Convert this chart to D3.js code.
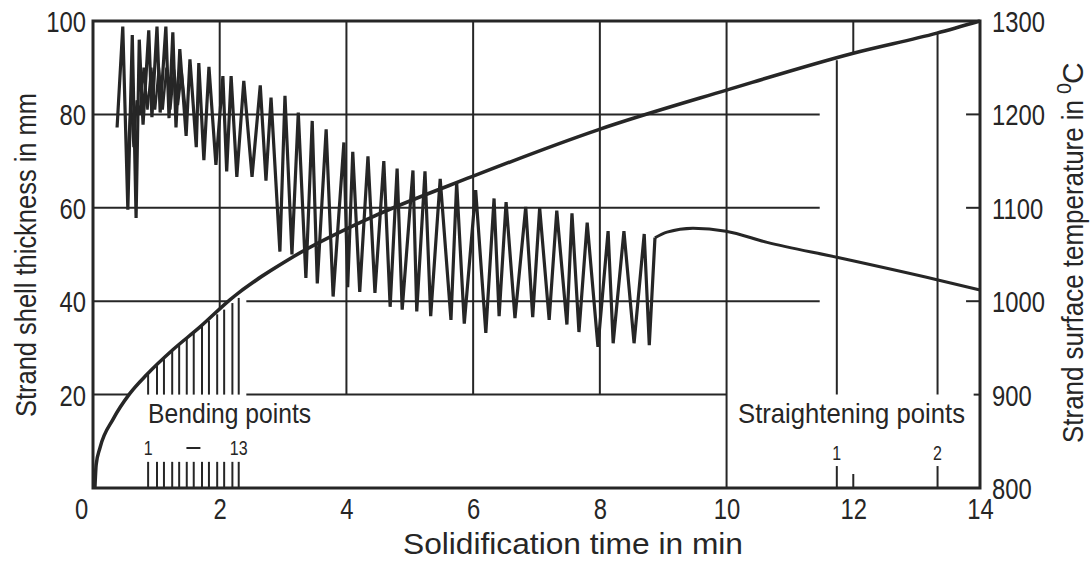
<!DOCTYPE html>
<html>
<head>
<meta charset="utf-8">
<title>Strand shell thickness and surface temperature</title>
<script src="https://d3js.org/d3.v7.min.js"></script>
<style>
  body { margin: 0; background: #ffffff; }
  svg { display: block; }
  text { font-family: "Liberation Sans Narrow", "Liberation Sans", sans-serif; fill: #262626; }
</style>
</head>
<body>
<script>
var width = 1091, height = 566;
var ink = "#262626";

// shell thickness (left axis, mm)
var shellTime = [0.03, 0.05, 0.11, 0.32, 0.58, 0.85, 1.26, 1.69, 2.16, 3.16, 4.37, 5.97, 7.97, 10.0, 12.0, 13.32, 14.0];
var shellMm   = [0, 5.0, 8.6, 14.8, 20.2, 24.3, 29.6, 34.5, 40.3, 49.5, 57.8, 66.6, 76.7, 85.2, 93.1, 97.4, 100];

// surface temperature (right axis, degC) - zigzag in the spray zone
var tempTime = [0.38,0.47,0.55,0.62,0.68,0.73,0.79,0.88,0.93,1.01,1.06,1.15,1.20,1.26,1.31,1.37,1.47,1.53,1.63,1.67,
  1.75,1.83,1.94,2.05,2.11,2.18,2.27,2.38,2.51,2.64,2.73,2.81,2.95,3.03,3.14,3.24,3.36,3.46,3.54,3.68,
  3.79,3.96,4.02,4.10,4.21,4.34,4.45,4.59,4.69,4.80,4.88,5.05,5.11,5.24,5.33,5.48,5.65,5.74,5.86,6.04,
  6.20,6.33,6.41,6.52,6.66,6.83,6.94,7.05,7.20,7.32,7.48,7.56,7.67,7.80,7.97,8.13,8.21,8.38,8.54,8.70,
  8.78,8.87];
var tempValue = [1186,1294,1098,1285,1089,1280,1189,1290,1197,1294,1202,1294,1196,1288,1186,1270,1177,1259,1165,1255,
  1151,1251,1146,1241,1139,1241,1133,1236,1133,1231,1129,1218,1053,1220,1050,1202,1025,1193,1019,1184,
  1005,1170,1015,1160,1010,1155,1009,1150,994,1142,991,1140,989,1139,984,1131,980,1127,976,1119,
  966,1110,984,1106,982,1101,983,1100,980,1097,975,1094,967,1084,951,1075,955,1075,955,1072,
  953,1068];

// inner small oscillation near the top of the first zone
var innerTime  = [0.55,0.60,0.64,0.69,0.74,0.80,0.86,0.92,0.98,1.04,1.10,1.16,1.22,1.28,1.34,1.40,1.46];
var innerValue = [1160,1215,1165,1215,1200,1250,1205,1250,1205,1250,1205,1250,1205,1248,1210,1245,1205];

// surface temperature after leaving the spray zone
var coolTime  = [8.87, 9.06, 9.47, 9.99, 10.64, 11.74, 13.32, 14.0];
var coolValue = [1068, 1074, 1078, 1075, 1063, 1047, 1023, 1012];

// bending points 1 - 13 (time, top of marker in mm)
var bendTime = [0.87,1.01,1.12,1.25,1.36,1.48,1.59,1.72,1.83,1.96,2.07,2.20,2.30];
var bendTop  = [24.3,26.2,27.6,29.4,30.7,32.1,33.3,34.7,35.8,37.2,38.2,39.6,40.7];

// straightening points 1, 2
var straightTime = [11.74, 13.33];
var straightTop  = [91.6, 97.4];
var straightLabels = ["1", "2"];

// tick labels
var timeTicks = [0, 2, 4, 6, 8, 10, 12, 14];
var mmTicks = [20, 40, 60, 80, 100];
var tempTicks = [800, 900, 1000, 1100, 1200, 1300];

// grid pieces (value, from, to) in data units
var hGrid = [[80, 0, 11.47], [60, 0, 11.47], [40, 0, 2.15], [40, 2.42, 11.47], [20, 0, 0.58], [20, 2.42, 10],
             [80, 13.78, 14], [60, 13.78, 14], [40, 13.78, 14], [20, 13.9, 14]];
var vGrid = [[2, 38.5, 100], [4, 20, 100], [6, 20, 100], [8, 20, 100], [10, 0, 100], [12, 93.1, 100], [12, 0, 3]];

var x = d3.scaleLinear().domain([0, 14]).range([93, 980]);
var yL = d3.scaleLinear().domain([0, 100]).range([488, 21]);
var yR = d3.scaleLinear().domain([800, 1300]).range([488, 21]);

var svg = d3.select("body").append("svg")
  .attr("width", width)
  .attr("height", height);

function squash(sel, f) {
  sel.each(function() {
    var w = this.getComputedTextLength();
    d3.select(this).attr("textLength", w * f).attr("lengthAdjust", "spacingAndGlyphs");
  });
}

// grid
svg.append("g").selectAll("line")
  .data(hGrid).enter().append("line")
  .attr("x1", function(d) { return x(d[1]); })
  .attr("x2", function(d) { return x(d[2]); })
  .attr("y1", function(d) { return yL(d[0]); })
  .attr("y2", function(d) { return yL(d[0]); })
  .attr("stroke", ink).attr("stroke-width", 2);

svg.append("g").selectAll("line")
  .data(vGrid).enter().append("line")
  .attr("x1", function(d) { return x(d[0]); })
  .attr("x2", function(d) { return x(d[0]); })
  .attr("y1", function(d) { return yL(d[1]); })
  .attr("y2", function(d) { return yL(d[2]); })
  .attr("stroke", ink).attr("stroke-width", 2);

// bending point markers
var bend = svg.append("g");
bend.selectAll(".up").data(bendTime).enter().append("line")
  .attr("x1", function(d) { return x(d); }).attr("x2", function(d) { return x(d); })
  .attr("y1", function(d, i) { return yL(bendTop[i]); })
  .attr("y2", yL(20))
  .attr("stroke", ink).attr("stroke-width", 2);
bend.selectAll(".down").data(bendTime).enter().append("line")
  .attr("x1", function(d) { return x(d); }).attr("x2", function(d) { return x(d); })
  .attr("y1", yL(5.6)).attr("y2", yL(0))
  .attr("stroke", ink).attr("stroke-width", 2);

// straightening point markers
var straight = svg.append("g");
straight.selectAll(".up").data(straightTime).enter().append("line")
  .attr("x1", function(d) { return x(d); }).attr("x2", function(d) { return x(d); })
  .attr("y1", function(d, i) { return yL(straightTop[i]); })
  .attr("y2", yL(20))
  .attr("stroke", ink).attr("stroke-width", 2);
straight.selectAll(".down").data(straightTime).enter().append("line")
  .attr("x1", function(d) { return x(d); }).attr("x2", function(d) { return x(d); })
  .attr("y1", yL(4.7)).attr("y2", yL(0))
  .attr("stroke", ink).attr("stroke-width", 2);

// frame
svg.append("rect")
  .attr("x", x(0)).attr("y", yL(100))
  .attr("width", x(14) - x(0)).attr("height", yL(0) - yL(100))
  .attr("fill", "none").attr("stroke", ink).attr("stroke-width", 3);

// curves
var shellLine = d3.line()
  .x(function(d, i) { return x(shellTime[i]); })
  .y(function(d) { return yL(d); })
  .curve(d3.curveMonotoneX);
svg.append("path").datum(shellMm)
  .attr("d", shellLine)
  .attr("fill", "none").attr("stroke", ink).attr("stroke-width", 3.5);

function tempLine(times) {
  return d3.line()
    .x(function(d, i) { return x(times[i]); })
    .y(function(d) { return yR(d); });
}
svg.append("path").datum(innerValue)
  .attr("d", tempLine(innerTime))
  .attr("fill", "none").attr("stroke", ink).attr("stroke-width", 2.5)
  .attr("stroke-linejoin", "miter");
svg.append("path").datum(tempValue)
  .attr("d", tempLine(tempTime))
  .attr("fill", "none").attr("stroke", ink).attr("stroke-width", 3.2)
  .attr("stroke-linejoin", "miter").attr("stroke-miterlimit", 8);
svg.append("path").datum(coolValue)
  .attr("d", tempLine(coolTime).curve(d3.curveMonotoneX))
  .attr("fill", "none").attr("stroke", ink).attr("stroke-width", 3);

// axes
var left = svg.append("g")
  .attr("transform", "translate(" + x(0) + ",0)")
  .call(d3.axisLeft(yL).tickValues(mmTicks).tickSize(0).tickPadding(7));
var bottom = svg.append("g")
  .attr("transform", "translate(0," + yL(0) + ")")
  .call(d3.axisBottom(x).tickValues(timeTicks).tickSize(0).tickPadding(10));
var right = svg.append("g")
  .attr("transform", "translate(" + x(14) + ",0)")
  .call(d3.axisRight(yR).tickValues(tempTicks).tickFormat(d3.format("d")).tickSize(0).tickPadding(12));

[left, bottom, right].forEach(function(a) {
  a.select(".domain").remove();
  a.selectAll("text")
    .attr("font-family", "Liberation Sans Narrow")
    .attr("font-size", 29)
    .attr("fill", ink)
    .call(squash, 0.82);
});
left.selectAll("text").attr("dy", "0.36em");
right.selectAll("text").attr("dy", "0.36em");
bottom.selectAll("text").attr("dx", function(d) { return d === 0 ? -12 : 0; });

// axis titles
svg.append("text")
  .attr("x", 573).attr("y", 554)
  .attr("text-anchor", "middle")
  .attr("font-size", 30)
  .attr("textLength", 340).attr("lengthAdjust", "spacingAndGlyphs")
  .text("Solidification time in min");

svg.append("text")
  .attr("transform", "translate(36,255) rotate(-90)")
  .attr("text-anchor", "middle")
  .attr("font-size", 30)
  .attr("textLength", 324).attr("lengthAdjust", "spacingAndGlyphs")
  .text("Strand shell thickness in mm");

var rt = svg.append("g").attr("transform", "translate(1083,443) rotate(-90)");
rt.append("text")
  .attr("x", 0).attr("y", 0)
  .attr("font-size", 30)
  .attr("textLength", 343).attr("lengthAdjust", "spacingAndGlyphs")
  .text("Strand surface temperature in");
rt.append("text")
  .attr("x", 349).attr("y", -12)
  .attr("font-size", 20)
  .text("0");
rt.append("text")
  .attr("x", 359).attr("y", 0)
  .attr("font-size", 30)
  .text("C");

// point labels
svg.append("text")
  .attr("x", x(bendTime[0])).attr("y", 423)
  .attr("font-size", 28)
  .attr("textLength", 163).attr("lengthAdjust", "spacingAndGlyphs")
  .text("Bending points");
svg.append("text")
  .attr("x", x(bendTime[0])).attr("y", 455)
  .attr("text-anchor", "middle").attr("font-size", 20)
  .text("1")
  .call(squash, 0.8);
svg.append("text")
  .attr("x", x(bendTime[12])).attr("y", 455)
  .attr("text-anchor", "middle").attr("font-size", 20)
  .text("13")
  .call(squash, 0.8);
svg.append("line")
  .attr("x1", x((bendTime[0] + bendTime[12]) / 2) - 7)
  .attr("x2", x((bendTime[0] + bendTime[12]) / 2) + 7)
  .attr("y1", 448).attr("y2", 448)
  .attr("stroke", ink).attr("stroke-width", 2);

svg.append("text")
  .attr("x", 738).attr("y", 423)
  .attr("font-size", 28)
  .attr("textLength", 227).attr("lengthAdjust", "spacingAndGlyphs")
  .text("Straightening points");
svg.selectAll(".slab").data(straightTime).enter().append("text")
  .attr("x", function(d) { return x(d); }).attr("y", 460)
  .attr("text-anchor", "middle").attr("font-size", 20)
  .text(function(d, i) { return straightLabels[i]; })
  .call(squash, 0.8);
</script>
</body>
</html>
